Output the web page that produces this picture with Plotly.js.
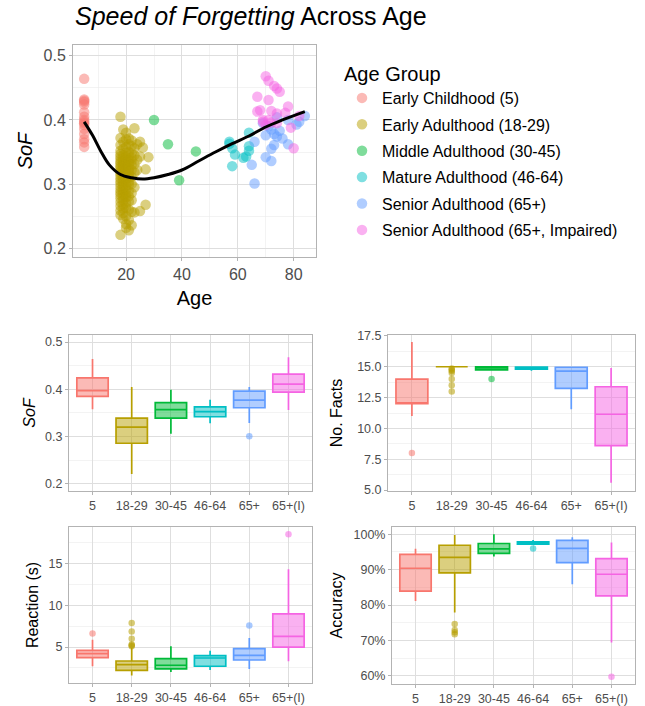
<!DOCTYPE html>
<html><head><meta charset="utf-8">
<script src="https://cdn.plot.ly/plotly-3.0.1.min.js"></script>
<style>html,body{margin:0;padding:0;background:#fff;}#chart{width:645px;height:706px;}</style>
</head><body><div id="chart"></div>
<script>
// ---------- categories ----------
const groupNames = ['Early Childhood (5)','Early Adulthood (18-29)','Middle Adulthood (30-45)','Mature Adulthood (46-64)','Senior Adulthood (65+)','Senior Adulthood (65+, Impaired)'];
const groupShort = ['5','18-29','30-45','46-64','65+','65+(I)'];
const groupColors = ['#F8766D','#B79F00','#00BA38','#00BFC4','#619CFF','#F564E3'];

// ---------- scatter: age vs SoF ----------
const ageEC = [5,5,5,5,5,5,5,5,5,5,5,5,5,5,5,5];
const sofEC = [0.464,0.432,0.430,0.428,0.424,0.412,0.405,0.400,0.397,0.395,0.392,0.386,0.378,0.370,0.365,0.358];

const ageEA = [
 18,18,18,18,18,18,18,18,18,18,18,18,18,18,18,18,18,18,18,18,18,18,18,18,18,18,18,
 19,19,19,19,19,19,19,19,19,19,19,19,19,19,19,19,19,19,19,19,19,19,19,19,
 20,20,20,20,20,20,20,20,20,20,20,20,20,20,20,20,20,20,20,20,20,20,20,
 21,21,21,21,21,21,21,21,21,21,21,21,21,21,21,21,21,21,21,
 22,22,22,22,22,22,22,22,22,22,22,22,22,
 23,23,23,23,23,23,23,
 24,24,24, 25,25,25, 26, 27,27, 28];
const sofEA = [
 0.405,0.372,0.361,0.352,0.347,0.343,0.339,0.335,0.332,0.328,0.325,0.321,0.318,0.314,0.309,0.305,0.301,0.296,0.291,0.287,0.283,0.278,0.272,0.266,0.259,0.252,0.221,
 0.385,0.366,0.355,0.345,0.340,0.336,0.331,0.327,0.323,0.319,0.316,0.312,0.307,0.302,0.298,0.293,0.288,0.284,0.279,0.274,0.268,0.262,0.255,0.246,
 0.380,0.370,0.358,0.349,0.342,0.338,0.334,0.330,0.326,0.322,0.317,0.313,0.308,0.303,0.297,0.292,0.285,0.280,0.270,0.263,0.250,0.238,0.232,
 0.371,0.362,0.350,0.344,0.337,0.333,0.329,0.324,0.320,0.315,0.310,0.304,0.299,0.289,0.281,0.273,0.260,0.244,0.228,
 0.368,0.359,0.348,0.341,0.336,0.330,0.322,0.311,0.300,0.286,0.275,0.257,0.236,
 0.387,0.356,0.345,0.331,0.318,0.295,0.256,
 0.362,0.338,0.322, 0.366,0.343,0.258, 0.357, 0.323,0.268, 0.342];

const ageMA = [30,35,39,45];
const sofMA = [0.400,0.362,0.306,0.351];

const ageMT = [57,58,59,62,63,64,57,58,64,64];
const sofMT = [0.363,0.328,0.346,0.341,0.343,0.380,0.366,0.356,0.359,0.352];

const ageSA = [66,65,66,70,72,72,73,74,75,78,82,84,72,71,69,76,78,73,81,70,74];
const sofSA = [0.301,0.330,0.366,0.342,0.336,0.355,0.361,0.374,0.383,0.362,0.397,0.406,0.385,0.390,0.395,0.371,0.400,0.378,0.393,0.376,0.404];

const ageSI = [70,71,73,74,75,67,71,68,67,72,74,78,77,82,69,71,74,79,80,70,72,69];
const sofSI = [0.468,0.461,0.453,0.449,0.444,0.436,0.431,0.415,0.413,0.414,0.410,0.421,0.411,0.406,0.397,0.400,0.395,0.388,0.356,0.392,0.396,0.400];

const smoothAge = [5,8,11,14,18,22,26,30,35,40,46,52,58,64,70,76,84];
const smoothSoF = [0.397,0.376,0.351,0.330,0.315,0.310,0.308,0.310,0.315,0.322,0.336,0.350,0.363,0.375,0.389,0.400,0.413];

// ---------- box statistics (per group, in groupShort order) ----------
const sofLo  = [0.358,0.221,0.306,0.328,0.329,0.356];
const sofQ1  = [0.385,0.286,0.339,0.342,0.361,0.394];
const sofMed = [0.397,0.320,0.357,0.353,0.377,0.411];
const sofQ3  = [0.424,0.339,0.372,0.363,0.396,0.432];
const sofHi  = [0.464,0.405,0.399,0.378,0.405,0.468];
const sofOutX = ['65+'];
const sofOutY = [0.301];

const factsLo  = [11.0,15.0,14.75,14.68,11.55,5.6];
const factsQ1  = [12.0,15.0,14.75,14.80,13.24,8.6];
const factsMed = [12.0,15.0,14.90,14.88,14.64,11.15];
const factsQ3  = [14.0,15.0,15.0,14.97,14.96,13.38];
const factsHi  = [17.0,15.0,15.0,15.0,15.0,14.9];
const factsOutX = ['5','18-29','18-29','18-29','18-29','18-29','18-29','18-29','30-45'];
const factsOutY = [8.0,14.85,14.75,14.65,14.5,14.0,13.5,13.0,14.0];

const reactLo  = [2.70,1.59,2.02,2.26,2.38,3.29];
const reactQ1  = [3.73,2.22,2.38,2.70,3.45,5.00];
const reactMed = [4.20,2.90,2.82,3.69,4.00,6.27];
const reactQ3  = [4.60,3.33,3.61,3.97,4.80,8.97];
const reactHi  = [5.87,4.90,5.08,4.56,6.07,14.29];
const reactOutX = ['5','18-29','18-29','18-29','18-29','18-29','18-29','65+','65+(I)'];
const reactOutY = [6.63,5.08,5.2,5.3,5.99,6.87,7.86,7.58,18.49];

const accLo  = [81.1,77.9,93.7,97.0,85.9,69.4];
const accQ1  = [83.9,89.1,94.6,97.2,92.0,82.6];
const accMed = [90.4,93.5,95.9,97.6,96.0,88.7];
const accQ3  = [94.3,96.9,97.4,97.9,98.3,93.1];
const accHi  = [95.9,99.8,100.0,98.4,99.2,97.7];
const accOutX = ['18-29','18-29','18-29','18-29','46-64','65+(I)'];
const accOutY = [74.6,72.9,72.3,71.7,96.0,59.7];

// ---------- build ----------
const FONT = 'Liberation Sans, Arial, Helvetica, sans-serif';
const gridCol = '#DEDEDE', borderCol = '#B3B3B3', tickTxt = '#4D4D4D';
function rgba(hex, a){const n=parseInt(hex.slice(1),16);return `rgba(${n>>16&255},${n>>8&255},${n&255},${a})`;}
const W=645,H=706;
const px = (a,b)=>[a/W,b/W];
const py = (top,bot)=>[1-bot/H,1-top/H];

const scatterAges = [ageEC,ageEA,ageMA,ageMT,ageSA,ageSI];
const scatterSoF  = [sofEC,sofEA,sofMA,sofMT,sofSA,sofSI];
const traces = [];
scatterAges.forEach((ages,i)=>{
  traces.push({type:'scatter',mode:'markers',x:ages,y:scatterSoF[i],xaxis:'x',yaxis:'y',
    name:groupNames[i],legendgroup:'g'+i,
    marker:{color:groupColors[i],size:10.5,opacity:0.5,line:{width:0}},hoverinfo:'skip'});
});
traces.push({type:'scatter',mode:'lines',x:smoothAge,y:smoothSoF,xaxis:'x',yaxis:'y',
  line:{color:'#000',width:3,shape:'spline'},showlegend:false,hoverinfo:'skip'});

function addBoxes(ax,ay,lo,q1,med,q3,hi,outX,outY){
  groupShort.forEach((g,i)=>{
    traces.push({type:'box',x:[g],lowerfence:[lo[i]],q1:[q1[i]],median:[med[i]],q3:[q3[i]],upperfence:[hi[i]],
      xaxis:ax,yaxis:ay,width:0.8,whiskerwidth:0,fillcolor:rgba(groupColors[i],0.5),
      line:{color:groupColors[i],width:1.7},showlegend:false,hoverinfo:'skip',boxpoints:false});
  });
  traces.push({type:'scatter',mode:'markers',x:outX,y:outY,xaxis:ax,yaxis:ay,showlegend:false,hoverinfo:'skip',
    marker:{size:6.5,opacity:0.55,color:outX.map(c=>groupColors[groupShort.indexOf(c)])}});
}
addBoxes('x2','y2',sofLo,sofQ1,sofMed,sofQ3,sofHi,sofOutX,sofOutY);
addBoxes('x3','y3',factsLo,factsQ1,factsMed,factsQ3,factsHi,factsOutX,factsOutY);
addBoxes('x4','y4',reactLo,reactQ1,reactMed,reactQ3,reactHi,reactOutX,reactOutY);
addBoxes('x5','y5',accLo,accQ1,accMed,accQ3,accHi,accOutX,accOutY);

function ax(extra, fs){
  return Object.assign({showline:true,mirror:true,linecolor:borderCol,linewidth:1,showgrid:true,gridcolor:gridCol,gridwidth:1,
    zeroline:false,ticks:'outside',ticklen:3,tickcolor:borderCol,tickfont:{family:FONT,size:fs,color:tickTxt},automargin:false,fixedrange:true}, extra);
}
const minor = d=>({dtick:d,showgrid:true,gridcolor:'#EBEBEB',gridwidth:0.6,ticks:''});
const catAx = (dom,anchor)=>ax({domain:dom,anchor:anchor,type:'category',categoryorder:'array',categoryarray:groupShort,range:[-0.6,5.6]},12.5);
const ttl = (t,fs,st)=>({text:t,font:{family:FONT,size:fs,color:'#000'},standoff:st});

const layout = {
  width:W,height:H,margin:{l:0,r:0,t:0,b:0},paper_bgcolor:'#fff',plot_bgcolor:'#fff',
  font:{family:FONT},showlegend:true,
  title:{text:'<i>Speed of Forgetting</i> Across Age',font:{family:FONT,size:25,color:'#000'},x:75/W,xanchor:'left',xref:'paper',y:1-16/H,yanchor:'middle'},
  xaxis:ax({domain:px(73,316),anchor:'y',range:[1.0,88.0],tick0:0,dtick:20,minor:minor(10),title:ttl('Age',20,8)},16),
  yaxis:ax({domain:py(45,257),anchor:'x',range:[0.1865,0.5167],tick0:0,dtick:0.1,tickformat:'.1f',minor:minor(0.05),title:ttl('<i>SoF</i>',20,5)},16),
  xaxis2:catAx(px(69,312),'y2'),
  yaxis2:ax({domain:py(335,491),anchor:'x2',range:[0.185,0.5148],tick0:0,dtick:0.1,tickformat:'.1f',minor:minor(0.05),title:ttl('<i>SoF</i>',16,5)},12.5),
  xaxis3:catAx(px(388,635),'y3'),
  yaxis3:ax({domain:py(335,491),anchor:'x3',range:[4.925,17.575],tick0:5,dtick:2.5,tickformat:'.1f',minor:minor(1.25),title:ttl('No. Facts',16,10)},12.5),
  xaxis4:catAx(px(69,312),'y4'),
  yaxis4:ax({domain:py(527,683),anchor:'x4',range:[0.7,19.35],tick0:0,dtick:5,minor:minor(2.5),title:ttl('Reaction (s)',16,5)},12.5),
  xaxis5:catAx(px(392,635),'y5'),
  yaxis5:ax({domain:py(527,684),anchor:'x5',range:[57.65,102.07],tick0:0,dtick:10,ticksuffix:'%',minor:minor(5),title:ttl('Accuracy',16,6)},12.5),
  boxmode:'overlay',
  legend:{x:342/W,y:1-55/H,xanchor:'left',yanchor:'top',bgcolor:'rgba(0,0,0,0)',
    title:{text:'Age Group',font:{family:FONT,size:20,color:'#000'}},
    font:{family:FONT,size:16,color:'#000'},tracegroupgap:2.6,itemclick:false}
};
Plotly.newPlot('chart',traces,layout,{staticPlot:true,displayModeBar:false});
</script></body></html>
